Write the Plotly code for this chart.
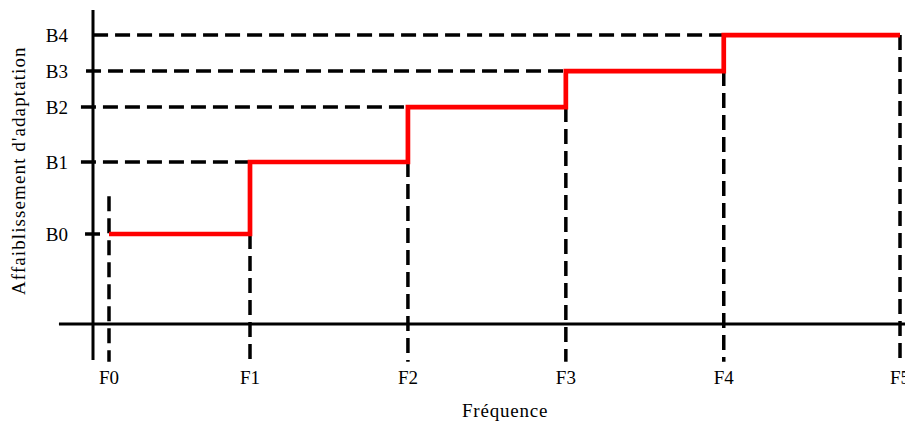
import plotly.graph_objects as go

# abscisses des fréquences de coupure et niveaux d'affaiblissement (unités arbitraires)
FREQ_LABELS = ["F0", "F1", "F2", "F3", "F4", "F5"]
FREQ_POS = [0.0, 1.0, 2.12, 3.24, 4.36, 5.61]
ATT_LABELS = ["B0", "B1", "B2", "B3", "B4"]
ATT_POS = [1.0, 1.8, 2.41, 2.81, 3.21]

# gabarit en escalier : le dernier niveau est tenu jusqu'à F5
STEP_Y = ATT_POS + [ATT_POS[-1]]

DASH = "15px,7px"
W, H = 905, 423

fig = go.Figure()


def guide(x, y):
    fig.add_trace(go.Scatter(
        x=x, y=y, mode="lines", hoverinfo="skip", showlegend=False,
        line=dict(color="black", width=3.5, dash=DASH),
    ))


# pointillés horizontaux (depuis l'axe vertical jusqu'à la marche)
x_start = [-0.17, -0.199, -0.199, -0.163, -0.113]
guide([x_start[0], -0.057], [ATT_POS[0], ATT_POS[0]])
for i in range(1, len(ATT_POS)):
    guide([x_start[i], FREQ_POS[i]], [ATT_POS[i], ATT_POS[i]])

# pointillés verticaux (de la marche jusque sous l'axe des fréquences)
y_bottom = -0.42
guide([FREQ_POS[0], FREQ_POS[0]], [1.42, y_bottom])
for i in range(1, len(FREQ_POS)):
    top = ATT_POS[min(i - 1, len(ATT_POS) - 1)]
    guide([FREQ_POS[i], FREQ_POS[i]], [top, y_bottom])

# courbe rouge
fig.add_trace(go.Scatter(
    x=FREQ_POS, y=STEP_Y, mode="lines", line_shape="hv", hoverinfo="skip",
    showlegend=False, line=dict(color="#ff0000", width=4.7),
))

# axes dessinés à la main
axis_line = dict(color="black", width=3)
fig.add_shape(type="line", xref="x", yref="y", x0=-0.1135, x1=-0.1135, y0=-0.4, y1=3.49, line=axis_line)
fig.add_shape(type="line", xref="x", yref="y", x0=-0.355, x1=5.7, y0=0, y1=0, line=axis_line)

fig.add_annotation(
    text="<span style='letter-spacing:1.1px'>Affaiblissement d'adaptation</span>",
    xref="paper", yref="paper", x=18 / W, y=1 - 171 / H, textangle=-90,
    showarrow=False, xanchor="center", yanchor="middle", font=dict(size=19),
)
fig.add_annotation(
    text="<span style='letter-spacing:0.8px'>Fréquence</span>",
    xref="paper", yref="paper", x=505 / W, y=1 - 410 / H,
    showarrow=False, xanchor="center", yanchor="middle", font=dict(size=19),
)

fig.update_layout(
    width=W, height=H, margin=dict(l=0, r=0, t=0, b=0),
    template="none", plot_bgcolor="white", paper_bgcolor="white", showlegend=False,
    font=dict(family="Liberation Serif, Times New Roman, serif", size=19, color="black"),
    xaxis=dict(range=[-109 / 141, (905 - 109) / 141], tickvals=FREQ_POS, ticktext=FREQ_LABELS,
               showgrid=False, zeroline=False, showline=False, ticks="",
               anchor="free", position=1 - 363.5 / H, automargin=False,
               ticklabeloverflow="allow"),
    yaxis=dict(range=[(324 - 423) / 90, 324 / 90], tickvals=ATT_POS, ticktext=ATT_LABELS,
               showgrid=False, zeroline=False, showline=False, ticks="",
               anchor="free", position=68 / W, automargin=False),
)

# pas de marge de page autour du graphique
fig.write_html(
    "out.html",
    config={"displayModeBar": False},
    post_script="document.body.style.margin='0';document.body.style.overflow='hidden';",
)
